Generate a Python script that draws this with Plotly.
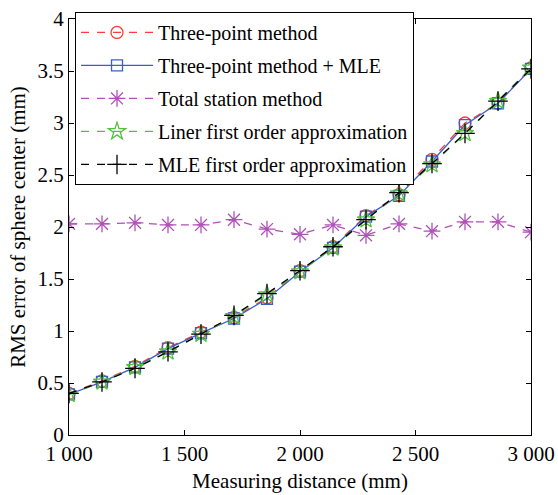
import plotly.graph_objects as go

distance = [1000 + i * 2000 / 14 for i in range(15)]
three_point = [0.40, 0.52, 0.66, 0.84, 0.99, 1.13, 1.32, 1.58, 1.81, 2.11, 2.31, 2.65, 3.00, 3.19, 3.53]
three_point_mle = [0.39, 0.51, 0.65, 0.83, 0.98, 1.12, 1.31, 1.57, 1.80, 2.10, 2.30, 2.63, 2.98, 3.19, 3.52]
total_station = [2.03, 2.03, 2.04, 2.02, 2.02, 2.07, 1.98, 1.93, 2.02, 1.92, 2.03, 1.96, 2.05, 2.05, 1.95]
liner_first = [0.39, 0.51, 0.65, 0.80, 0.97, 1.14, 1.35, 1.57, 1.80, 2.07, 2.32, 2.60, 2.90, 3.21, 3.53]
mle_first = [0.40, 0.51, 0.64, 0.80, 0.97, 1.15, 1.36, 1.58, 1.81, 2.07, 2.33, 2.61, 2.90, 3.21, 3.52]

x_tickvals = [1000, 1500, 2000, 2500, 3000]
x_ticktext = ["1 000", "1 500", "2 000", "2 500", "3 000"]
y_tickvals = [0, 0.5, 1, 1.5, 2, 2.5, 3, 3.5, 4]
y_ticktext = ["0", "0.5", "1", "1.5", "2", "2.5", "3", "3.5", "4"]

FONT = "Liberation Serif, Times New Roman, serif"

series = [
    ("Three-point method", three_point, "#FF3B3B", "dash", "circle-open", 12),
    ("Three-point method + MLE", three_point_mle, "#3A5FC8", "solid", "square-open", 11),
    ("Total station method", total_station, "#B050B8", "dash", "asterisk-open", 14),
    ("Liner first order approximation", liner_first, "#55C040", "dash", "star-open", 13),
    ("MLE first order approximation", mle_first, "#000000", "dash", "cross-thin-open", 14),
]

fig = go.Figure()
for i, (name, ys, color, dash, symbol, size) in enumerate(series):
    fig.add_trace(go.Scatter(
        x=distance, y=ys, name=name, mode="lines+markers", legendgroup=f"g{i}",
        line=dict(color=color, width=1.3, dash="solid" if dash == "solid" else "8px,8px"),
        marker=dict(symbol=symbol, size=size, color=color,
                    line=dict(color=color, width=1.3)),
    ))

fig.update_layout(
    width=558, height=495,
    margin=dict(l=69, r=27, t=14, b=60),
    paper_bgcolor="white", plot_bgcolor="white",
    font=dict(family=FONT, size=20, color="black"),
    showlegend=True,
    legend=dict(
        x=0.013, y=1.017, xanchor="left", yanchor="top",
        bgcolor="white", bordercolor="black", borderwidth=1,
        font=dict(family=FONT, size=20, color="black"),
        itemwidth=72, tracegroupgap=4,
    ),
    xaxis=dict(
        range=[1000, 3000], tickvals=x_tickvals, ticktext=x_ticktext,
        ticks="inside", ticklen=5, tickcolor="black", mirror="ticks",
        showline=True, linecolor="black", linewidth=1, showgrid=False, zeroline=False,
        tickfont=dict(family=FONT, size=21), automargin=False,
        title=dict(text="Measuring distance (mm)", font=dict(family=FONT, size=21), standoff=8),
    ),
    yaxis=dict(
        range=[0, 4], tickvals=y_tickvals, ticktext=y_ticktext,
        ticks="inside", ticklen=5, tickcolor="black", mirror="ticks",
        showline=True, linecolor="black", linewidth=1, showgrid=False, zeroline=False,
        tickfont=dict(family=FONT, size=21), automargin=False,
        title=dict(text="RMS error of sphere center (mm)", font=dict(family=FONT, size=21), standoff=6),
    ),
)

fig.write_html("out.html")
